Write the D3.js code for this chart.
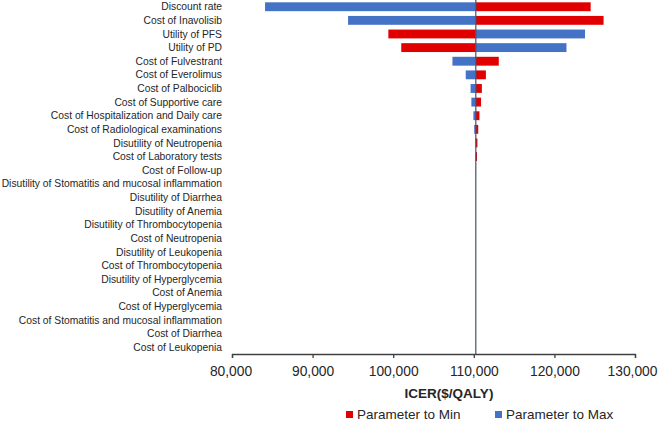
<!DOCTYPE html>
<html>
<head>
    <title>Tornado diagram - ICER</title>
    <script src="https://cdnjs.cloudflare.com/ajax/libs/d3/7.8.5/d3.min.js" charset="utf-8"></script>
    <style>
        body { margin: 0; background: #fff; }
        text { font-family: "Liberation Sans", Arial, sans-serif; }
    </style>
</head>
<body>
<div id="graph"></div>
<script>
    var width = 658;
    var height = 422;

    // base-case ICER
    var baseICER = 110250;

    var categories = [
        "Discount rate",
        "Cost of Inavolisib",
        "Utility of PFS",
        "Utility of PD",
        "Cost of Fulvestrant",
        "Cost of Everolimus",
        "Cost of Palbociclib",
        "Cost of Supportive care",
        "Cost of Hospitalization and Daily care",
        "Cost of Radiological examinations",
        "Disutility of Neutropenia",
        "Cost of Laboratory tests",
        "Cost of Follow-up",
        "Disutility of Stomatitis and mucosal inflammation",
        "Disutility of Diarrhea",
        "Disutility of Anemia",
        "Disutility of Thrombocytopenia",
        "Cost of Neutropenia",
        "Disutility of Leukopenia",
        "Cost of Thrombocytopenia",
        "Disutility of Hyperglycemia",
        "Cost of Anemia",
        "Cost of Hyperglycemia",
        "Cost of Stomatitis and mucosal inflammation",
        "Cost of Diarrhea",
        "Cost of Leukopenia"
    ];

    // ICER when parameter set to its minimum (red)
    var toMin = [124500, 126100, 99400, 101000, 113100, 111500, 111000, 110900, 110700, 110550,
                 110450, 110400, 110260, 110255, 110255, 110255, 110255, 110255, 110255, 110255,
                 110255, 110255, 110255, 110255, 110255, 110255];
    // ICER when parameter set to its maximum (blue)
    var toMax = [84100, 94400, 123800, 121500, 107350, 109000, 109600, 109700, 109950, 110050,
                 110200, 110220, 110240, 110245, 110245, 110245, 110245, 110245, 110245, 110245,
                 110245, 110245, 110245, 110245, 110245, 110245];

    var xTicks = [80000, 90000, 100000, 110000, 120000, 130000];

    var legendNames = ["Parameter to Min", "Parameter to Max"];
    var colors = ["#e00000", "#4472c4"];

    var svg = d3.select("#graph").append("svg")
            .attr("width", width)
            .attr("height", height);

    var x = d3.scaleLinear().domain([80000, 130000]).range([232, 635]);
    var y = d3.scaleBand().domain(categories).range([0, 354]).paddingInner(0.35).paddingOuter(0.17);

    // bars
    var rows = categories.map(function (c, i) {
        return {name: c, min: toMin[i], max: toMax[i]};
    });

    var g = svg.append("g");
    [["min", 0], ["max", 1]].forEach(function (k) {
        g.selectAll("rect." + k[0])
            .data(rows)
            .enter()
            .append("rect")
            .attr("class", k[0])
            .attr("x", function (d) { return x(Math.min(d[k[0]], baseICER)); })
            .attr("width", function (d) { return Math.abs(x(d[k[0]]) - x(baseICER)); })
            .attr("y", function (d) { return y(d.name); })
            .attr("height", y.bandwidth())
            .attr("fill", colors[k[1]]);
    });

    // base line
    svg.append("line")
        .attr("x1", x(baseICER)).attr("x2", x(baseICER))
        .attr("y1", 0).attr("y2", 354)
        .attr("stroke", "#44546a")
        .attr("stroke-width", 1.2);

    // category labels
    svg.selectAll("text.cat")
        .data(categories)
        .enter()
        .append("text")
        .attr("class", "cat")
        .attr("x", 222)
        .attr("y", function (d) { return y(d) + y.bandwidth() / 2; })
        .attr("dy", "0.35em")
        .attr("text-anchor", "end")
        .attr("font-size", "10.3px")
        .attr("fill", "#262626")
        .text(function (d) { return d; });

    // x axis
    var axis = svg.append("g")
        .attr("transform", "translate(0,354)")
        .call(d3.axisBottom(x).tickValues(xTicks).tickSize(4).tickSizeOuter(4).tickPadding(8)
            .tickFormat(d3.format(",")));
    axis.select(".domain").attr("stroke", "#404040").attr("stroke-width", 1.3);
    axis.selectAll(".tick line").attr("stroke", "#404040").attr("stroke-width", 1.3);
    axis.selectAll(".tick text")
        .attr("font-family", "Liberation Sans, Arial, sans-serif")
        .attr("font-size", "13.8px")
        .attr("fill", "#262626")
        .attr("dx", function (d, i) { return i === xTicks.length - 1 ? -3 : (i === 0 ? -1.5 : 0); });

    svg.append("text")
        .attr("x", 449)
        .attr("y", 398)
        .attr("text-anchor", "middle")
        .attr("font-size", "13.5px")
        .attr("font-weight", "bold")
        .attr("fill", "#262626")
        .text("ICER($/QALY)");

    // legend
    var legendX = [346, 495];
    var legend = svg.selectAll("g.legend")
        .data(legendNames)
        .enter()
        .append("g")
        .attr("class", "legend")
        .attr("transform", function (d, i) { return "translate(" + legendX[i] + ",414.5)"; });
    legend.append("rect")
        .attr("x", 0).attr("y", -3.5)
        .attr("width", 7).attr("height", 7)
        .attr("fill", function (d, i) { return colors[i]; });
    legend.append("text")
        .attr("x", 11)
        .attr("y", 0)
        .attr("dy", "0.35em")
        .attr("font-size", "13.5px")
        .attr("fill", "#262626")
        .text(function (d) { return d; });
</script>
</body>
</html>
